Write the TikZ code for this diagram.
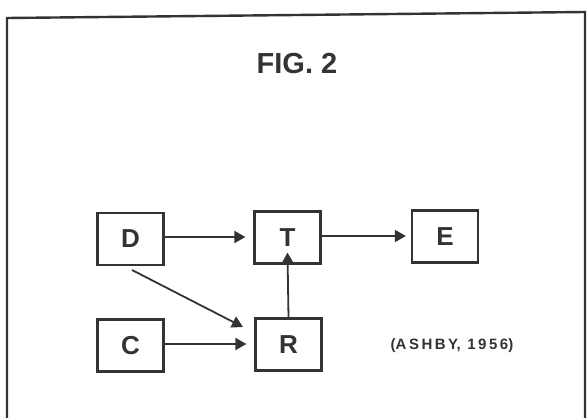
\documentclass[tikz,border=0pt]{standalone}
\usepackage{fontspec}
\setmainfont{Liberation Sans}
\usetikzlibrary{arrows.meta}
\begin{document}
\begin{tikzpicture}[x=1pt,y=-1pt,
  blk/.style={draw=black!80,line width=2.2pt,minimum width=66pt,minimum height=52pt,inner sep=0pt,text=black!80,font=\bfseries\fontsize{26}{26}\selectfont},
  con/.style={draw=black!80,line width=1.8pt,-{Triangle[length=11pt,width=12pt]}}]
\useasboundingbox (0,0) rectangle (587,418);
\draw[black!80,line width=2.4pt] (7,418) -- (7,18) -- (585,12) -- (585,418);
\node[font=\bfseries\fontsize{29}{29}\selectfont,text=black!80] (title) at (297,64) {FIG. 2};
\node[blk] (D) at (130.5,239) {D};
\node[blk] (T) at (287.5,237.5) {T};
\node[blk] (E) at (445,236.5) {E};
\node[blk] (C) at (130.5,345.5) {C};
\node[blk] (R) at (288.5,344.5) {R};
\node[font=\bfseries\fontsize{15}{15}\selectfont,text=black!80] (ref) at (452,346) {(A\,S\,H\,B\,Y, \,1\,9\,5\,6)};
\draw[con] (D.east |- 0,237) -- ([xshift=-8pt]T.west |- 0,237);
\draw[con] (T.east |- 0,236) -- ([xshift=-5pt]E.west |- 0,236);
\draw[con] (C.east |- 0,344) -- ([xshift=-8pt]R.west |- 0,344);
\draw[con] (R.north) -- ([yshift=12pt]T.south);
\coordinate (dstart) at (132,270);
\draw[con] (dstart) -- (243,327);
\end{tikzpicture}
\end{document}
